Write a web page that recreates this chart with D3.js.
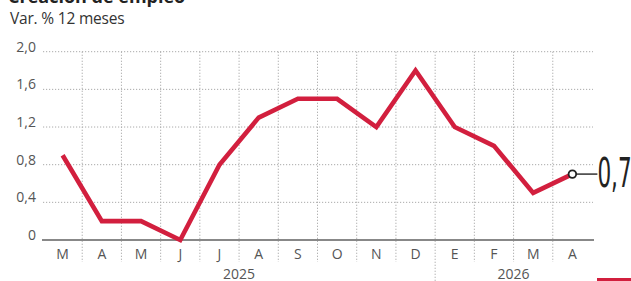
<!DOCTYPE html>
<html>
<head>
<meta charset="utf-8">
<script src="https://cdn.jsdelivr.net/npm/d3@7"></script>
<style>
  body { margin: 0; background: #fff; }
  svg { display: block; font-family: "Open Sans", "Noto Sans", sans-serif; }
</style>
</head>
<body>
<div id="chart"></div>
<script>
// data
const months = ['M', 'A', 'M', 'J', 'J', 'A', 'S', 'O', 'N', 'D', 'E', 'F', 'M', 'A'];
const values = [0.9, 0.2, 0.2, 0.0, 0.8, 1.3, 1.5, 1.5, 1.2, 1.8, 1.2, 1.0, 0.5, 0.7];
const yTicks = [0, 0.4, 0.8, 1.2, 1.6, 2.0];
const years = [{ label: '2025', from: 0, to: 9 }, { label: '2026', from: 10, to: 13 }];
const title = 'Creación de empleo';
const subtitle = 'Var. % 12 meses';
const lastLabel = '0,7';

const W = 631, H = 281;
const red = '#d21f3e';
const fmt = d => d === 0 ? '0' : d3.format('.1f')(d).replace('.', ',');

const svg = d3.select('#chart').append('svg')
    .attr('width', W).attr('height', H);

const x = d3.scaleBand().domain(d3.range(months.length)).range([43, 592]);
const y = d3.scaleLinear().domain([0, 2]).range([240, 51.7]);

// titles
svg.append('text').attr('x', 8).attr('y', 3)
    .attr('font-size', 18).attr('font-weight', 700).attr('fill', '#222')
    .text(title);
svg.append('text').attr('x', 10).attr('y', 24)
    .attr('font-size', 15.5).attr('fill', '#333').attr('letter-spacing', -0.2)
    .text(subtitle);

// horizontal dotted grid
svg.append('g').selectAll('line')
    .data(yTicks.filter(d => d > 0))
    .join('line')
    .attr('x1', 43).attr('x2', 593)
    .attr('y1', d => y(d)).attr('y2', d => y(d))
    .attr('stroke', '#aaa').attr('stroke-width', 1)
    .attr('stroke-dasharray', '1.2,1.8');

// vertical dotted grid at band boundaries
const bounds = d3.range(1, months.length);
svg.append('g').selectAll('line')
    .data(bounds)
    .join('line')
    .attr('x1', d => x(d)).attr('x2', d => x(d))
    .attr('y1', y(2)).attr('y2', d => d === years[1].from ? H : 262)
    .attr('stroke', '#aaa').attr('stroke-width', 1)
    .attr('stroke-dasharray', '1.2,1.8');

// y axis labels
const yAxis = d3.axisLeft(y).tickValues(yTicks).tickFormat(fmt).tickSize(0);
svg.append('g').attr('transform', 'translate(39,-5)').call(yAxis)
    .call(g => g.select('.domain').remove())
    .selectAll('text')
    .attr('font-family', '"Open Sans", "Noto Sans", sans-serif')
    .attr('font-size', 14).attr('fill', '#555').attr('dx', 0);

// zero baseline
svg.append('line').attr('x1', 42).attr('x2', 594)
    .attr('y1', y(0)).attr('y2', y(0))
    .attr('stroke', '#888').attr('stroke-width', 2);

// month labels
const xAxis = d3.axisBottom(x).tickFormat(i => months[i]).tickSize(0);
svg.append('g').attr('transform', `translate(0,${y(0) + 6})`).call(xAxis)
    .call(g => g.select('.domain').remove())
    .selectAll('text')
    .attr('font-family', '"Open Sans", "Noto Sans", sans-serif')
    .attr('font-size', 14).attr('fill', '#555');

// year labels
svg.append('g').selectAll('text')
    .data(years)
    .join('text')
    .attr('x', d => (x(d.from) + x(d.to) + x.bandwidth()) / 2)
    .attr('y', 279)
    .attr('text-anchor', 'middle')
    .attr('font-size', 14).attr('fill', '#555')
    .text(d => d.label);

// line
const cx = i => x(i) + x.bandwidth() / 2;
const line = d3.line().x((d, i) => cx(i)).y(d => y(d));
svg.append('path').datum(values)
    .attr('d', line)
    .attr('fill', 'none').attr('stroke', red)
    .attr('stroke-width', 4.6).attr('stroke-linejoin', 'miter')
    .attr('stroke-linecap', 'butt');

// last point marker + label
const li = values.length - 1;
const lx = cx(li), ly = y(values[li]);
svg.append('line').attr('x1', lx).attr('x2', lx + 25)
    .attr('y1', ly).attr('y2', ly)
    .attr('stroke', '#333').attr('stroke-width', 1.5);
svg.append('circle').attr('cx', lx).attr('cy', ly).attr('r', 3.8)
    .attr('fill', '#fff').attr('stroke', '#222').attr('stroke-width', 1.8);
svg.append('text')
    .attr('transform', `translate(${lx + 25},${ly + 13}) scale(0.6,1)`)
    .attr('font-family', '"Liberation Sans Narrow", "DejaVu Sans Condensed", sans-serif')
    .attr('font-size', 40).attr('fill', '#222')
    .text(lastLabel);

// red corner bar
svg.append('rect').attr('x', 597).attr('y', 278).attr('width', 34).attr('height', 3)
    .attr('fill', red);
</script>
</body>
</html>
